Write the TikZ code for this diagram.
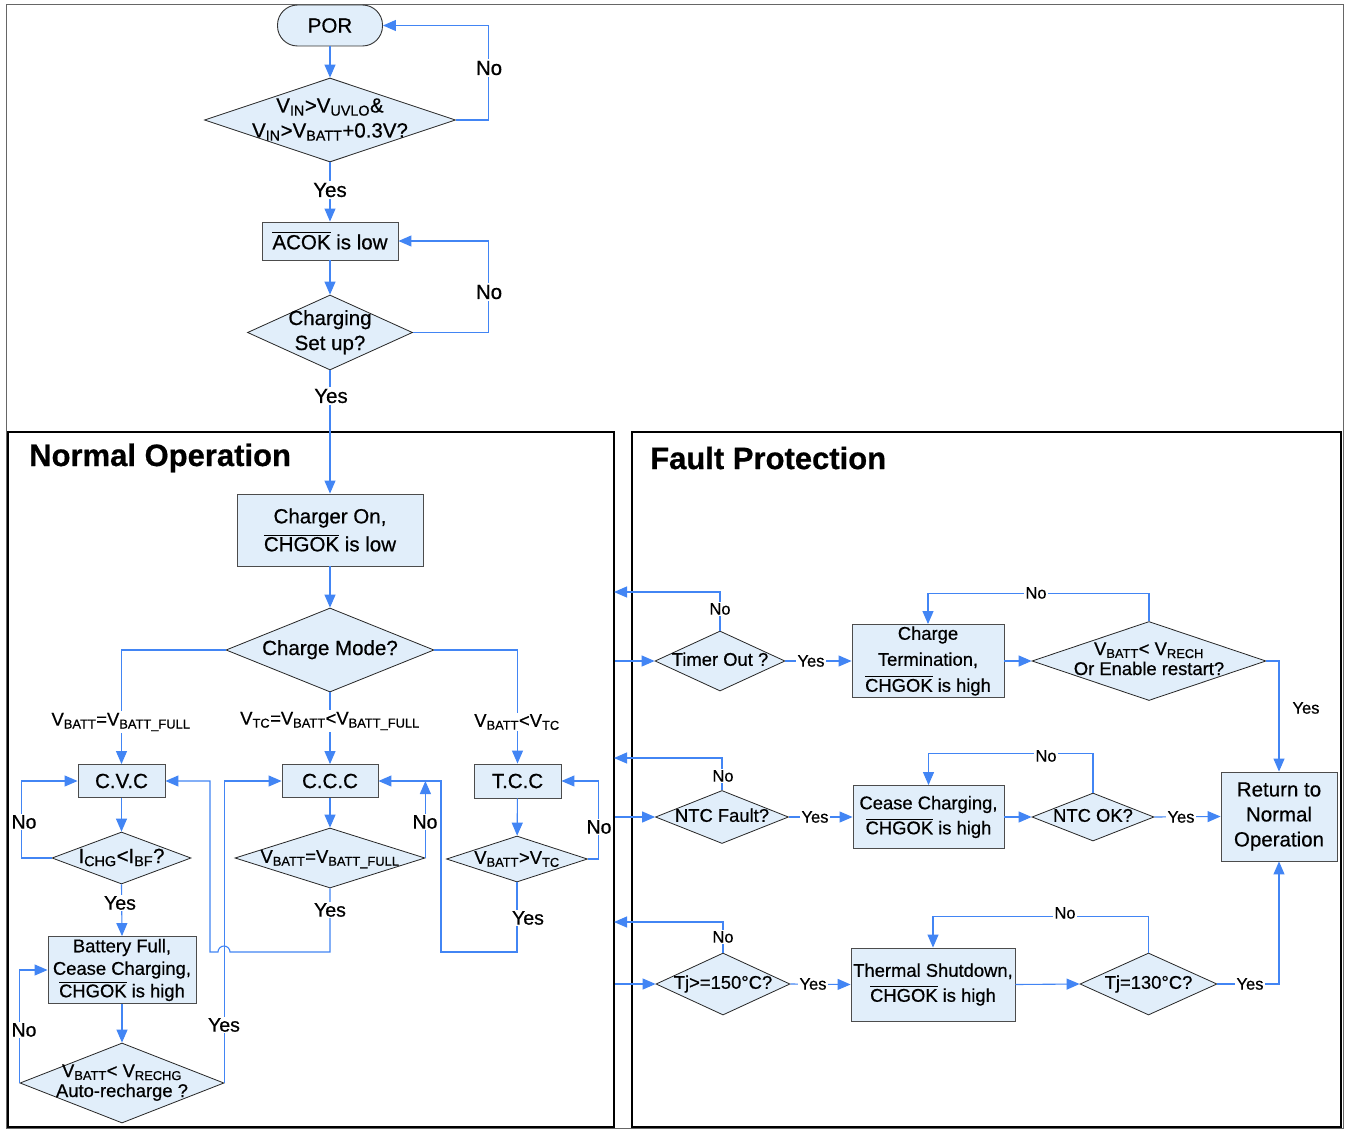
\documentclass[tikz,border=0pt]{standalone}
\usepackage{fontspec}
\setmainfont{Liberation Sans}[FakeBold=0.6]
\usetikzlibrary{shapes.geometric,arrows.meta}
\definecolor{bfill}{RGB}{225,238,250}
\definecolor{lnk}{RGB}{66,133,244}
\newcommand\fsa{\fontsize{20.5}{25}\selectfont}
\newcommand\fsb{\fontsize{18.4}{24}\selectfont}
\newcommand\fsc{\fontsize{16.5}{20}\selectfont}
\newcommand\fsy{\fontsize{19.5}{23}\selectfont}
\newcommand\ftl{\fontsize{31}{36}\selectfont\bfseries}
\newcommand\ovl[1]{\leavevmode\vbox{\hrule height 0.9pt\kern 1.6pt\hbox{#1}}}
\newcommand\dtx[1]{\makebox[0pt]{\begin{tabular}{@{}c@{}}#1\end{tabular}}}
\newcommand\sbs[1]{\textsubscript{#1}}
\begin{document}
\begin{tikzpicture}[x=1pt,y=-1pt,
  box/.style={rectangle, draw=black!70, fill=bfill, line width=0.9pt, align=center, inner sep=0pt},
  dia/.style={diamond, draw=black!85, fill=bfill, line width=0.8pt, inner sep=0pt},
  panel/.style={rectangle, draw=black, line width=2.2pt, inner sep=0pt},
  conn/.style={draw=lnk, line width=1.1pt, -{Triangle[length=13pt,width=11pt]}},
  lbl/.style={fill=white, inner sep=1.5pt},
]
\useasboundingbox (0,0) rectangle (1346,1129);
\fill[white] (0,0) rectangle (1346,1129);
\draw[black!60, line width=1pt] (6,5) rectangle (1343,1128);

% panels
\node[panel, minimum width=606pt, minimum height=695pt] (np) at (311,779.5) {};
\node[panel, minimum width=709pt, minimum height=695pt] (fp) at (986.5,779.5) {};
\node[anchor=west, font=\ftl, inner sep=0pt] (tn) at (29,458) {Normal Operation};
\node[anchor=west, font=\ftl, inner sep=0pt] (tf) at (650,458) {Fault Protection};

% top part
\node[rectangle, rounded corners=20pt, draw=black!80, fill=bfill, minimum width=105pt, minimum height=41pt, font=\fsa, line width=0.9pt] (por) at (330,25.5) {POR};
\node[dia, minimum width=251pt, minimum height=84pt, font=\fsa] (d1) at (330,120) {\dtx{V\sbs{IN}>V\sbs{UVLO}\&\\V\sbs{IN}>V\sbs{BATT}+0.3V?}};
\node[box, minimum width=136pt, minimum height=38pt, font=\fsa] (acok) at (330,241) {\ovl{ACOK} is low};
\node[dia, minimum width=165pt, minimum height=75pt, font=\fsa] (d2) at (330,332.5) {\raisebox{-3pt}{\dtx{Charging\\Set up?}}};
\node[box, minimum width=186pt, minimum height=72pt, font=\fontsize{20.5}{28}\selectfont] (cho) at (330,530) {Charger On,\\\ovl{CHGOK} is low};

% normal operation
\node[dia, minimum width=208pt, minimum height=84pt, font=\fsa] (cm) at (330,650) {\dtx{Charge Mode?}};
\node[box, minimum width=87pt, minimum height=33pt, font=\fsa] (cvc) at (121.5,781) {C.V.C};
\node[box, minimum width=96pt, minimum height=33pt, font=\fsa] (ccc) at (330,781) {C.C.C};
\node[box, minimum width=87pt, minimum height=34pt, font=\fsa] (tcc) at (517.5,781) {T.C.C};
\node[dia, minimum width=139pt, minimum height=52pt, font=\fsa] (dcv) at (121.5,858) {\dtx{I\sbs{CHG}<I\sbs{BF}?}};
\node[dia, minimum width=190pt, minimum height=60pt, font=\fsb] (dcc) at (330,858) {\dtx{V\sbs{BATT}=V\sbs{BATT\_FULL}}};
\node[dia, minimum width=141pt, minimum height=46pt, font=\fsb] (dtc) at (517,859) {\dtx{V\sbs{BATT}>V\sbs{TC}}};
\node[box, minimum width=148pt, minimum height=67pt, font=\fontsize{18.4}{22.5}\selectfont] (bf) at (122,970) {Battery Full,\\Cease Charging,\\\ovl{CHGOK} is high};
\node[dia, minimum width=204pt, minimum height=80pt, font=\fontsize{18.4}{20}\selectfont] (dar) at (122,1083) {\dtx{V\sbs{BATT}< V\sbs{RECHG}\\Auto-recharge ?}};

% fault protection
\node[dia, minimum width=130pt, minimum height=60pt, font=\fsb] (t1) at (720,661) {\dtx{Timer Out ?}};
\node[box, minimum width=152pt, minimum height=73pt, font=\fontsize{18.4}{26}\selectfont] (ct) at (928,661) {Charge\\Termination,\\\ovl{CHGOK} is high};
\node[dia, minimum width=234pt, minimum height=79pt, font=\fontsize{18.4}{20}\selectfont] (dr) at (1149,661) {\dtx{V\sbs{BATT}< V\sbs{RECH}\\Or Enable restart?}};
\node[box, minimum width=116pt, minimum height=89pt, font=\fsa] (ret) at (1279,816.5) {Return to\\Normal\\Operation};
\node[dia, minimum width=133pt, minimum height=53pt, font=\fsb] (t2) at (722,817) {\dtx{NTC Fault?}};
\node[box, minimum width=151pt, minimum height=63pt, font=\fontsize{18.4}{25}\selectfont] (cc) at (928.5,817) {Cease Charging,\\\ovl{CHGOK} is high};
\node[dia, minimum width=122pt, minimum height=48pt, font=\fsb] (dn) at (1093,817) {\dtx{NTC OK?}};
\node[dia, minimum width=134pt, minimum height=62pt, font=\fsb] (t3) at (723,984) {\dtx{Tj>=150°C?}};
\node[box, minimum width=164pt, minimum height=73pt, font=\fontsize{18.4}{25}\selectfont] (th) at (933,984.5) {Thermal Shutdown,\\\ovl{CHGOK} is high};
\node[dia, minimum width=137pt, minimum height=62pt, font=\fsb] (d130) at (1148.5,984) {\dtx{Tj=130°C?}};
\coordinate (r1) at (614,592);
\coordinate (r2) at (614,758);
\coordinate (r3) at (614,922);

% connectors: top
\draw[conn] (por) -- (d1);
\draw[conn] (d1.east) -- ++(33,0) |- (por.east);
\draw[conn] (d1.south) -- (acok.north);
\draw[conn] (acok) -- (d2);
\draw[conn] (d2.east) -- ++(76,0) |- (acok.east);
\draw[conn] (d2.south) -- (cho.north);
\draw[conn] (cho) -- (cm);
% normal operation
\draw[conn] (cm.west) -| (cvc.north);
\draw[conn] (cm.south) -- (ccc.north);
\draw[conn] (cm.east) -| (tcc.north);
\draw[conn] (cvc) -- (dcv);
\draw[conn] (dcv.west) -- ++(-30,0) |- (cvc.west);
\draw[conn] (dcv.south) -- (bf.north);
\draw[conn] (bf) -- (dar);
\draw[conn] (dar.west) |- (bf.west);
\draw[conn] (dar.east) |- (ccc.west);
\draw[conn] (ccc) -- (dcc);
\draw[conn] (dcc.east) -- (dcc.east |- ccc.east);
\draw[conn] (dcc.south) -- (330,952) -- (230,952) arc[start angle=0, end angle=-180, radius=6] -- (210,952) |- (cvc.east);
\draw[conn] (tcc) -- (dtc);
\draw[conn] (dtc.east) -- ++(11,0) |- (tcc.east);
\draw[conn] (dtc.south) |- (441,952) |- (ccc.east);
% fault protection
\draw[conn] (np.east |- t1.west) -- (t1.west);
\draw[conn] (t1.north) |- (r1);
\draw[conn] (t1.east) -- (ct.west);
\draw[conn] (ct.east) -- (dr.west);
\draw[conn] (dr.north) -- ++(0,-28) -| (ct.north);
\draw[conn] (dr.east) -| (ret.north);
\draw[conn] (np.east |- t2.west) -- (t2.west);
\draw[conn] (t2.north) |- (r2);
\draw[conn] (t2.east) -- (cc.west);
\draw[conn] (cc.east) -- (dn.west);
\draw[conn] (dn.north) -- ++(0,-39) -| (cc.north);
\draw[conn] (dn.east) -- (ret.west);
\draw[conn] (np.east |- t3.west) -- (t3.west);
\draw[conn] (t3.north) |- (r3);
\draw[conn] (t3.east) -- (th.west);
\draw[conn] (th.east) -- (d130.west);
\draw[conn] (d130.north) -- ++(0,-36) -| (th.north);
\draw[conn] (d130.east) -| (ret.south);

% labels
\node[lbl, font=\fsa] (l1) at (489,68) {No};
\node[lbl, font=\fsa] (l2) at (330,190) {Yes};
\node[lbl, font=\fsa] (l3) at (489,292) {No};
\node[lbl, font=\fsa] (l4) at (331,396) {Yes};
\node[lbl, font=\fsb] (l5) at (121,722) {V\sbs{BATT}=V\sbs{BATT\_FULL}};
\node[lbl, font=\fsb] (l6) at (330,721) {V\sbs{TC}=V\sbs{BATT}<V\sbs{BATT\_FULL}};
\node[lbl, font=\fsb] (l7) at (517,722) {V\sbs{BATT}<V\sbs{TC}};
\node[lbl, font=\fsy] (l8) at (24,822) {No};
\node[lbl, font=\fsy] (l9) at (120,903) {Yes};
\node[lbl, font=\fsy] (l10) at (24,1030) {No};
\node[lbl, font=\fsy] (l11) at (224,1025) {Yes};
\node[lbl, font=\fsy] (l12) at (425,822) {No};
\node[lbl, font=\fsy] (l13) at (330,910) {Yes};
\node[lbl, font=\fsy] (l14) at (599,827) {No};
\node[lbl, font=\fsy] (l15) at (528,918) {Yes};
\node[lbl, font=\fsc] (l16) at (720,609) {No};
\node[lbl, font=\fsc] (l17) at (811,661) {Yes};
\node[lbl, font=\fsc] (l18) at (1036,593) {No};
\node[font=\fsc, inner sep=1pt] (l19) at (1306,708) {Yes};
\node[lbl, font=\fsc] (l20) at (723,776) {No};
\node[lbl, font=\fsc] (l21) at (815,817) {Yes};
\node[lbl, font=\fsc] (l22) at (1046,756) {No};
\node[lbl, font=\fsc] (l23) at (1181,817) {Yes};
\node[lbl, font=\fsc] (l24) at (723,937) {No};
\node[lbl, font=\fsc] (l25) at (813,984) {Yes};
\node[lbl, font=\fsc] (l26) at (1065,913) {No};
\node[lbl, font=\fsc] (l27) at (1250,984) {Yes};
\end{tikzpicture}
\end{document}
